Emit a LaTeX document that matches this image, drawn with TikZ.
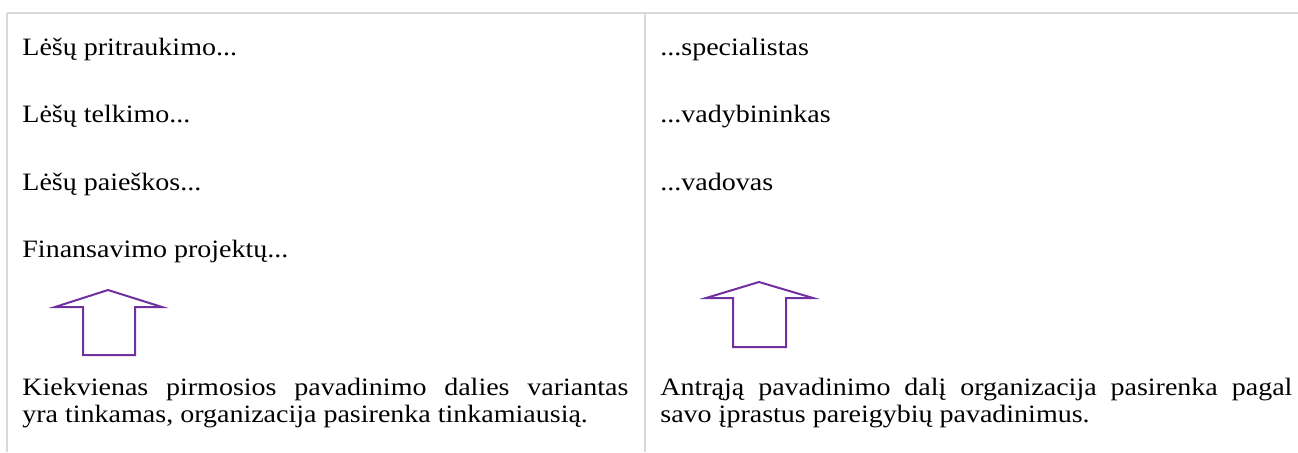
\documentclass[tikz,border=0pt]{standalone}
\usepackage{fontspec}
\setmainfont{Liberation Serif}[FakeStretch=1.12]
\definecolor{arrowpurple}{RGB}{112,48,160}
\definecolor{gridgray}{RGB}{217,217,217}

\begin{document}
\begin{tikzpicture}[x=0.5pt, y=-0.5pt,
	txt/.style={anchor=base west, inner sep=0, font=\fontsize{12.5}{14.6}\selectfont},
	grid line/.style={gridgray, line width=1pt},
	up arrow/.style={arrowpurple, line width=1pt, line join=miter}]
			\useasboundingbox (0,0) rectangle (1298,452);
			%%%%% START %%%%%
			\draw[grid line] (7, 13) -- (1298, 13);
			\draw[grid line] (7, 13) -- (7, 452);
			\draw[grid line] (645, 13) -- (645, 452);
			
			\node[txt] (first1) at (22, 55) {Lėšų pritraukimo...};
			\node[txt] (first2) at (22, 122.5) {Lėšų telkimo...};
			\node[txt] (first3) at (22, 190) {Lėšų paieškos...};
			\node[txt] (first4) at (22, 257.5) {Finansavimo projektų...};
			
			\node[txt] (second1) at (660, 55) {...specialistas};
			\node[txt] (second2) at (660, 122.5) {...vadybininkas};
			\node[txt] (second3) at (660, 190) {...vadovas};
			
			\draw[up arrow] (108, 290) -- (162, 307) -- (135, 307) -- (135, 355) -- (83, 355) -- (83, 307) -- (55, 307) -- cycle;
			\draw[up arrow] (759, 282) -- (813, 298) -- (786, 298) -- (786, 347) -- (733, 347) -- (733, 298) -- (706, 298) -- cycle;
			
			\node[txt] (leftnote1) at (22, 395) {\makebox[303pt][s]{Kiekvienas pirmosios pavadinimo dalies variantas}};
			\node[txt] (leftnote2) at (22, 422) {yra tinkamas, organizacija pasirenka tinkamiausią.};
			
			\node[txt] (rightnote1) at (660, 395) {\makebox[316pt][s]{Antrąją pavadinimo dalį organizacija pasirenka pagal}};
			\node[txt] (rightnote2) at (660, 422) {savo įprastus pareigybių pavadinimus.};
			%%%%% END %%%%%
		\end{tikzpicture}
\end{document}
